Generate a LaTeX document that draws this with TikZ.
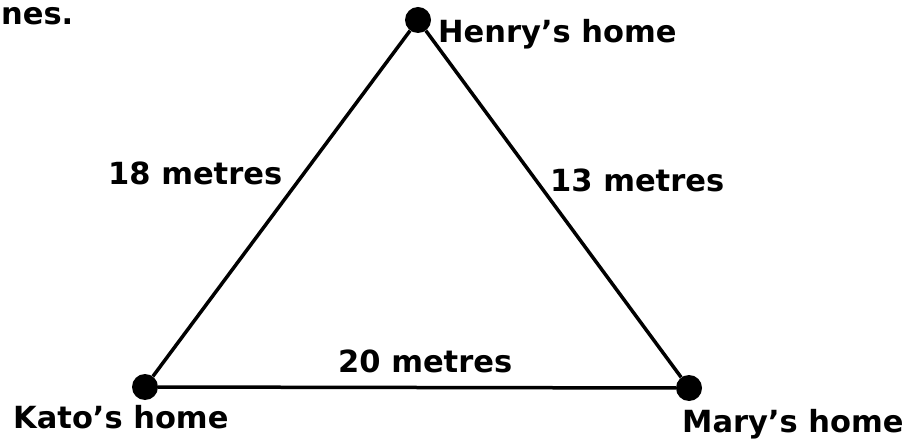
\documentclass[tikz,border=0pt]{standalone}
\usepackage{fontspec}
\setmainfont{DejaVu Sans}
\tikzset{
  dot/.style={circle,fill=black,draw=none,minimum size=26pt,inner sep=0pt},
  lbl/.style={inner sep=0pt,anchor=base west,font=\fontsize{30.5}{36}\selectfont\bfseries},
  side/.style={line width=3.5pt,draw=black}
}
\begin{document}
\begin{tikzpicture}[x=1pt,y=-1pt]
\useasboundingbox (0,0) rectangle (907,443);
\node[dot] (H) at (418,20) {};
\node[dot] (K) at (145,387) {};
\node[dot] (M) at (689,388) {};
\draw[side] (K) -- (H);
\draw[side] (H) -- (M);
\draw[side] (K) -- (M);
\node[lbl] (tH) at (438,43) {Henry’s home};
\node[lbl] (tK) at (13,428) {Kato’s home};
\node[lbl] (tM) at (682,432) {Mary’s home};
\node[lbl] (l18) at (108,185) {18 metres};
\node[lbl] (l13) at (550,192) {13 metres};
\node[lbl] (l20) at (338,372) {20 metres};
\node[lbl] (top) at (1,25) {nes.};
\end{tikzpicture}
\end{document}
